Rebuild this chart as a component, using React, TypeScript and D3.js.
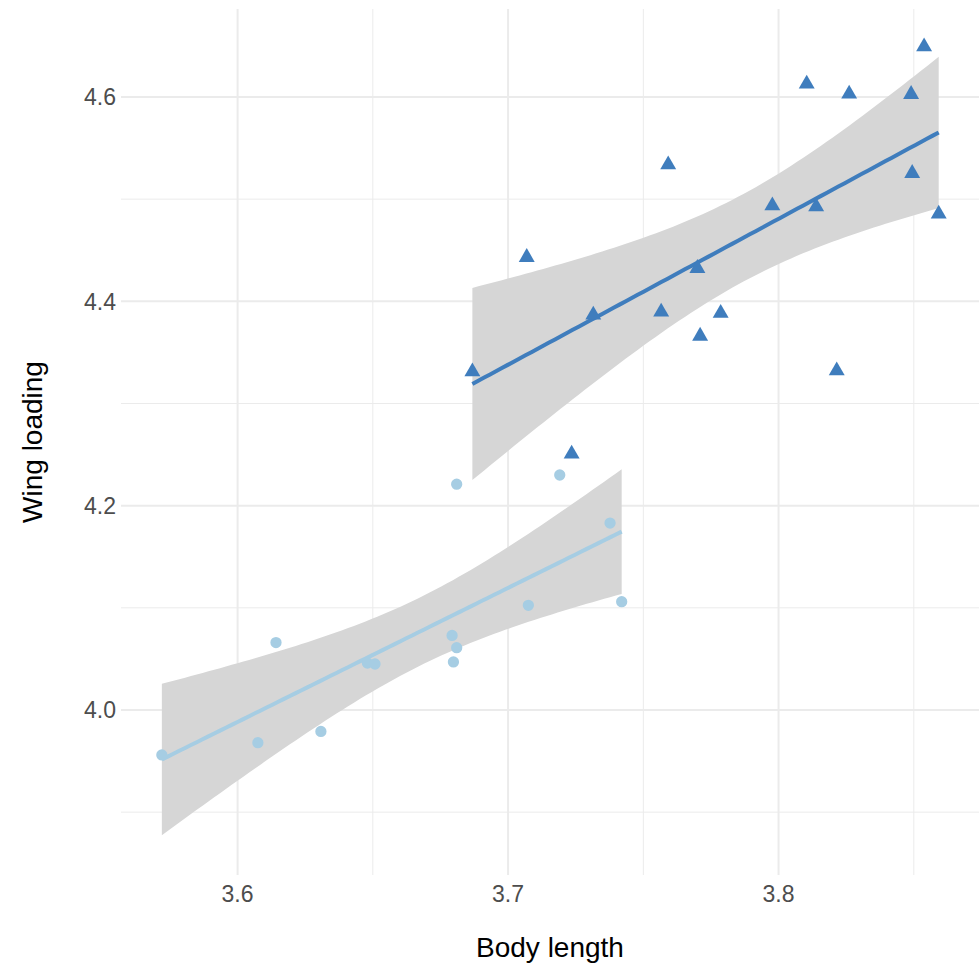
import React, { useRef, useEffect } from 'react';
import * as d3 from 'd3';

// small-bodied group (circles)
const smallBody = [3.572, 3.6075, 3.6142, 3.6308, 3.648, 3.6508, 3.6793, 3.681, 3.6798, 3.681, 3.7075, 3.7191, 3.7377, 3.742];
const smallWing = [3.956, 3.968, 4.066, 3.979, 4.046, 4.045, 4.073, 4.061, 4.047, 4.221, 4.1025, 4.230, 4.183, 4.106];

// large-bodied group (triangles)
const largeBody = [3.6868, 3.7069, 3.7235, 3.7315, 3.7566, 3.7592, 3.77, 3.771, 3.7786, 3.7977, 3.8104, 3.8139, 3.8215, 3.8261, 3.849, 3.8494, 3.8538, 3.8592];
const largeWing = [4.3311, 4.4431, 4.2506, 4.3866, 4.3897, 4.5337, 4.4323, 4.366, 4.3883, 4.4936, 4.6127, 4.4926, 4.3321, 4.6029, 4.6026, 4.5253, 4.6492, 4.4855];

const xTicks = [3.6, 3.7, 3.8];
const xMinor = [3.65, 3.75, 3.85];
const yTicks = [4.0, 4.2, 4.4, 4.6];
const yMinor = [3.9, 4.1, 4.3, 4.5];

const colors = { small: '#a6cde3', large: '#3f7dbd', band: '#d6d6d6', grid: '#ebebeb' };

// t quantile (0.975) by Cornish-Fisher expansion
const tQuantile = (df: number) => {
  const z = 1.959964;
  return z + (z ** 3 + z) / (4 * df)
    + (5 * z ** 5 + 16 * z ** 3 + 3 * z) / (96 * df ** 2)
    + (3 * z ** 7 + 19 * z ** 5 + 17 * z ** 3 - 15 * z) / (384 * df ** 3);
};

// linear fit with 95% confidence band, like geom_smooth(method = "lm")
const lmFit = (xs: number[], ys: number[]) => {
  const n = xs.length;
  const mx = d3.mean(xs)!;
  const my = d3.mean(ys)!;
  const sxx = d3.sum(xs, x => (x - mx) ** 2);
  const sxy = d3.sum(xs, (x, i) => (x - mx) * (ys[i] - my));
  const b = sxy / sxx;
  const a = my - b * mx;
  const rss = d3.sum(xs, (x, i) => (ys[i] - a - b * x) ** 2);
  const s = Math.sqrt(rss / (n - 2));
  const t = tQuantile(n - 2);
  const [lo, hi] = d3.extent(xs) as [number, number];
  return d3.range(80).map(i => {
    const x = lo + (hi - lo) * i / 79;
    const fit = a + b * x;
    const se = s * Math.sqrt(1 / n + (x - mx) ** 2 / sxx);
    return { x, fit, lower: fit - t * se, upper: fit + t * se };
  });
};

const App = () => {
  const svgRef = useRef<SVGSVGElement>(null);
  const width = 979;
  const height = 968;

  useEffect(() => {
    document.body.style.margin = '0';
    const svg = d3.select(svgRef.current);
    svg.selectAll('*').remove();

    const margin = { top: 9, right: 0, bottom: 93, left: 121 };
    const innerWidth = width - margin.left - margin.right;
    const innerHeight = height - margin.top - margin.bottom;

    const xScale = d3.scaleLinear().domain([3.5569, 3.8741]).range([0, innerWidth]);
    const yScale = d3.scaleLinear().domain([3.8385, 4.6861]).range([innerHeight, 0]);

    const g = svg.append('g').attr('transform', `translate(${margin.left},${margin.top})`);

    // grid
    g.selectAll('.xminor').data(xMinor).join('line')
      .attr('x1', d => xScale(d)).attr('x2', d => xScale(d))
      .attr('y1', 0).attr('y2', innerHeight)
      .attr('stroke', colors.grid).attr('stroke-width', 1);
    g.selectAll('.yminor').data(yMinor).join('line')
      .attr('y1', d => yScale(d)).attr('y2', d => yScale(d))
      .attr('x1', 0).attr('x2', innerWidth)
      .attr('stroke', colors.grid).attr('stroke-width', 1);
    g.selectAll('.xmajor').data(xTicks).join('line')
      .attr('x1', d => xScale(d)).attr('x2', d => xScale(d))
      .attr('y1', 0).attr('y2', innerHeight)
      .attr('stroke', colors.grid).attr('stroke-width', 2);
    g.selectAll('.ymajor').data(yTicks).join('line')
      .attr('y1', d => yScale(d)).attr('y2', d => yScale(d))
      .attr('x1', 0).attr('x2', innerWidth)
      .attr('stroke', colors.grid).attr('stroke-width', 2);

    // tick labels
    g.selectAll('.xlab').data(xTicks).join('text')
      .attr('x', d => xScale(d)).attr('y', innerHeight + 27)
      .attr('text-anchor', 'middle')
      .attr('font-family', 'Liberation Sans, Arial, sans-serif')
      .attr('font-size', 23).attr('fill', '#4d4d4d')
      .text(d => d.toFixed(1));
    g.selectAll('.ylab').data(yTicks).join('text')
      .attr('x', -5).attr('y', d => yScale(d)).attr('dy', '0.36em')
      .attr('text-anchor', 'end')
      .attr('font-family', 'Liberation Sans, Arial, sans-serif')
      .attr('font-size', 23).attr('fill', '#4d4d4d')
      .text(d => d.toFixed(1));

    // axis titles
    svg.append('text')
      .attr('x', margin.left + innerWidth / 2).attr('y', 957)
      .attr('text-anchor', 'middle')
      .attr('font-family', 'Liberation Sans, Arial, sans-serif')
      .attr('font-size', 28).attr('fill', '#000')
      .text('Body length');
    svg.append('text')
      .attr('transform', `translate(42,${margin.top + innerHeight / 2}) rotate(-90)`)
      .attr('text-anchor', 'middle')
      .attr('font-family', 'Liberation Sans, Arial, sans-serif')
      .attr('font-size', 28).attr('fill', '#000')
      .text('Wing loading');

    const groups = [
      { xs: smallBody, ys: smallWing, color: colors.small, shape: d3.symbolCircle, size: 100 },
      { xs: largeBody, ys: largeWing, color: colors.large, shape: d3.symbolTriangle, size: 110 },
    ];

    const area = d3.area<{ x: number; lower: number; upper: number }>()
      .x(d => xScale(d.x)).y0(d => yScale(d.lower)).y1(d => yScale(d.upper));
    const line = d3.line<{ x: number; fit: number }>()
      .x(d => xScale(d.x)).y(d => yScale(d.fit));

    groups.forEach(grp => {
      const fit = lmFit(grp.xs, grp.ys);
      g.append('path').datum(fit)
        .attr('fill', colors.band)
        .attr('d', area);
      g.append('path').datum(fit)
        .attr('fill', 'none').attr('stroke', grp.color).attr('stroke-width', 4)
        .attr('d', line);
    });

    groups.forEach(grp => {
      const sym = d3.symbol().type(grp.shape).size(grp.size);
      g.selectAll(null).data(grp.xs).join('path')
        .attr('transform', (d, i) => `translate(${xScale(d)},${yScale(grp.ys[i])})`)
        .attr('fill', grp.color)
        .attr('d', sym);
    });
  }, []);

  return <svg ref={svgRef} width={width} height={height} style={{ display: 'block' }} />;
};

export default App;
